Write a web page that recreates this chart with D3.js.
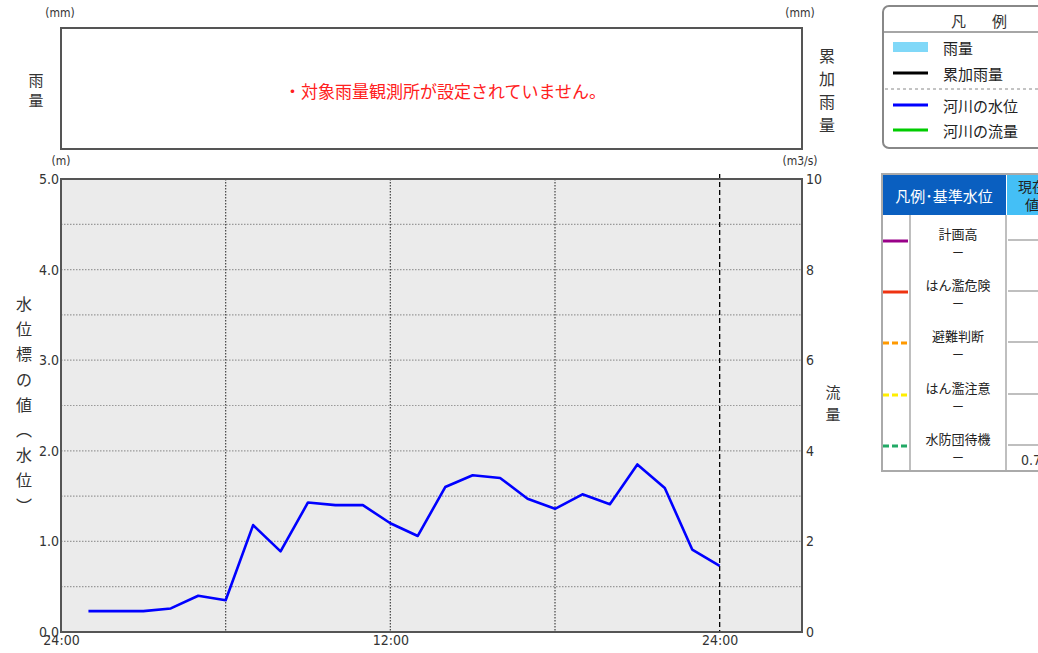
<!DOCTYPE html>
<html>
<head>
<meta charset="utf-8">
<script src="https://cdn.jsdelivr.net/npm/d3@7"></script>
<style>
  body { margin:0; background:#fff; }
  text { font-family: "Noto Sans CJK JP", "DejaVu Sans", sans-serif; }
  .num { font-family: "DejaVu Sans Condensed", "DejaVu Sans", sans-serif; }
</style>
</head>
<body>
<div class="canvas"></div>
<script>
//------------------------DATA
const hours = [1,2,3,4,5,6,7,8,9,10,11,12,13,14,15,16,17,18,19,20,21,22,23,24];
const waterLevel = [0.23,0.23,0.23,0.26,0.40,0.35,1.18,0.89,1.43,1.40,1.40,1.20,1.06,1.60,1.73,1.70,1.47,1.36,1.52,1.41,1.85,1.59,0.91,0.73];
const levelTicks = [0,1,2,3,4,5];
const flowTicks = [0,2,4,6,8,10];
const gridLevels = [0.5,1,1.5,2,2.5,3,3.5,4,4.5];
const timeTicks = [0,12,24];
const timeLabels = ['24:00','12:00','24:00'];
const dottedHours = [6,12,18];
const dayEnd = 24;
const legendNames = ['雨量','累加雨量','河川の水位','河川の流量'];
const legendColors = ['#80d8f8','#000000','#0000ff','#00cc00'];
const stdNames = ['計画高','はん濫危険','避難判断','はん濫注意','水防団待機'];
const stdColors = ['#990088','#ee3311','#ff9900','#ffee00','#22aa66'];
const stdDashed = [false,false,true,true,true];
const currentValue = '0.73';

//------------------------dimensions
const dims = { width:1038, height:653 };
const plot = { left:61, right:802, top:179, bottom:632 };
const rain = { top:28, bottom:149 };

const svg = d3.select('.canvas')
.append('svg')
.attr('width', dims.width)
.attr('height', dims.height);

//------------------------scales
const x = d3.scaleLinear().domain([0,27]).range([plot.left, plot.right]);
const y = d3.scaleLinear().domain([0,5]).range([plot.bottom, plot.top]);
const yFlow = d3.scaleLinear().domain([0,10]).range([plot.bottom, plot.top]);

//------------------------rain panel (empty)
svg.append('rect')
.attr('x', plot.left).attr('y', rain.top)
.attr('width', plot.right - plot.left).attr('height', rain.bottom - rain.top)
.attr('fill', '#fff').attr('stroke', '#555').attr('stroke-width', 2);

svg.append('text').attr('class','num').attr('x', 60).attr('y', 17)
.attr('text-anchor','middle').attr('font-size', 12).attr('fill','#333').text('(mm)');
svg.append('text').attr('class','num').attr('x', 800).attr('y', 17)
.attr('text-anchor','middle').attr('font-size', 12).attr('fill','#333').text('(mm)');

const vText = (chars, cx, y0, step, size) => {
    chars.split('').forEach((c, i) => {
        svg.append('text')
        .attr('x', cx).attr('y', y0 + i*step)
        .attr('text-anchor','middle').attr('dominant-baseline','central')
        .attr('font-size', size).attr('fill','#333')
        .text(c);
    });
};
vText('雨量', 36, 79, 20, 15);
vText('累加雨量', 827, 55, 23, 16);

svg.append('text')
.attr('x', 445).attr('y', 90)
.attr('text-anchor','middle').attr('dominant-baseline','central')
.attr('font-size', 17).attr('fill','#ff2020')
.text('・対象雨量観測所が設定されていません。');

//------------------------main plot background
svg.append('rect')
.attr('x', plot.left).attr('y', plot.top)
.attr('width', plot.right - plot.left).attr('height', plot.bottom - plot.top)
.attr('fill', '#ebebeb');

// horizontal grid
svg.append('g').selectAll('line')
.data(gridLevels).enter().append('line')
.attr('x1', plot.left).attr('x2', plot.right)
.attr('y1', d => y(d)).attr('y2', d => y(d))
.attr('stroke', '#999').attr('stroke-width', 1.2).attr('stroke-dasharray', '1.5,1.5');

// vertical grid
svg.append('g').selectAll('line')
.data(dottedHours).enter().append('line')
.attr('x1', d => x(d)).attr('x2', d => x(d))
.attr('y1', plot.top).attr('y2', plot.bottom)
.attr('stroke', '#444').attr('stroke-width', 1.2).attr('stroke-dasharray', '1.5,1.5');

svg.append('line')
.attr('x1', x(dayEnd)).attr('x2', x(dayEnd))
.attr('y1', plot.top - 5).attr('y2', plot.bottom)
.attr('stroke', '#000').attr('stroke-width', 1.3).attr('stroke-dasharray', '5,3');

// frame
svg.append('rect')
.attr('x', plot.left).attr('y', plot.top)
.attr('width', plot.right - plot.left).attr('height', plot.bottom - plot.top)
.attr('fill', 'none').attr('stroke', '#555').attr('stroke-width', 2);

//------------------------axes
const leftAxis = d3.axisLeft(y).tickValues(levelTicks).tickFormat(d3.format('.1f')).tickSize(0).tickPadding(2);
const rightAxis = d3.axisRight(yFlow).tickValues(flowTicks).tickFormat(d3.format('d')).tickSize(0).tickPadding(4);
const bottomAxis = d3.axisBottom(x).tickValues(timeTicks).tickFormat((d,i) => timeLabels[i]).tickSize(0).tickPadding(4);

const styleAxis = g => {
    g.select('.domain').remove();
    g.selectAll('text').attr('class','num').attr('font-size', 14).attr('fill', '#333')
    .style('font-family', '"DejaVu Sans Condensed", "DejaVu Sans", sans-serif');
};

svg.append('g').attr('transform', `translate(${plot.left},0)`).call(leftAxis).call(styleAxis);
svg.append('g').attr('transform', `translate(${plot.right},0)`).call(rightAxis).call(styleAxis);
svg.append('g').attr('transform', `translate(0,${plot.bottom - 1})`).call(bottomAxis).call(styleAxis);

svg.append('text').attr('class','num').attr('x', 61).attr('y', 165)
.attr('text-anchor','middle').attr('font-size', 12).attr('fill','#333').text('(m)');
svg.append('text').attr('class','num').attr('x', 800).attr('y', 165)
.attr('text-anchor','middle').attr('font-size', 12).attr('fill','#333').text('(m3/s)');

vText('水位標の値︵水位︶', 24, 303, 25.2, 16);
vText('流量', 833, 391, 22, 15);

//------------------------water level line
const line = d3.line()
.x((d,i) => x(hours[i]))
.y(d => y(d));

svg.append('path')
.datum(waterLevel)
.attr('d', line)
.attr('fill', 'none')
.attr('stroke', '#0000ff')
.attr('stroke-width', 2.6)
.attr('stroke-linejoin', 'round');

//------------------------legend box 1
const lg = svg.append('g');
lg.append('rect')
.attr('x', 883).attr('y', 6).attr('width', 200).attr('height', 142).attr('rx', 6)
.attr('fill', '#fff').attr('stroke', '#888').attr('stroke-width', 2);
lg.append('line').attr('x1', 883).attr('x2', 1038).attr('y1', 32).attr('y2', 32)
.attr('stroke', '#888').attr('stroke-width', 1.5);
lg.append('text').attr('x', 951).attr('y', 20).attr('dominant-baseline','central')
.attr('font-size', 15).attr('fill', '#333').text('凡');
lg.append('text').attr('x', 992).attr('y', 20).attr('dominant-baseline','central')
.attr('font-size', 15).attr('fill', '#333').text('例');
lg.append('line').attr('x1', 885).attr('x2', 1038).attr('y1', 89).attr('y2', 89)
.attr('stroke', '#888').attr('stroke-dasharray', '3,3');

const legendY = [47, 73, 105, 130];
legendNames.forEach((n, i) => {
    if (i === 0) {
        lg.append('rect').attr('x', 893).attr('y', legendY[i] - 5).attr('width', 35).attr('height', 10)
        .attr('fill', legendColors[i]);
    } else {
        lg.append('line').attr('x1', 893).attr('x2', 928).attr('y1', legendY[i]).attr('y2', legendY[i])
        .attr('stroke', legendColors[i]).attr('stroke-width', 3);
    }
    lg.append('text').attr('x', 943).attr('y', legendY[i]).attr('dominant-baseline','central')
    .attr('font-size', 15).attr('fill', '#222').text(n);
});

//------------------------legend table (standard water levels)
const tb = svg.append('g');
tb.append('rect').attr('x', 882).attr('y', 174).attr('width', 200).attr('height', 297)
.attr('fill', '#fff').attr('stroke', '#aaa').attr('stroke-width', 2);
tb.append('rect').attr('x', 883).attr('y', 175).attr('width', 123).attr('height', 40).attr('fill', '#0a5fc0');
tb.append('rect').attr('x', 1007).attr('y', 175).attr('width', 60).attr('height', 40).attr('fill', '#44bff6');
tb.append('text').attr('x', 944).attr('y', 195).attr('text-anchor','middle').attr('dominant-baseline','central')
.attr('font-size', 15).attr('fill', '#fff').text('凡例･基準水位');
tb.append('text').attr('x', 1032).attr('y', 186).attr('text-anchor','middle').attr('dominant-baseline','central')
.attr('font-size', 14).attr('fill', '#222').text('現在');
tb.append('text').attr('x', 1032).attr('y', 204).attr('text-anchor','middle').attr('dominant-baseline','central')
.attr('font-size', 14).attr('fill', '#222').text('値');

tb.append('line').attr('x1', 910).attr('x2', 910).attr('y1', 215).attr('y2', 471).attr('stroke', '#aaa').attr('stroke-width', 1.5);
tb.append('line').attr('x1', 1006).attr('x2', 1006).attr('y1', 215).attr('y2', 471).attr('stroke', '#aaa').attr('stroke-width', 1.5);

const rowY = [241, 292, 343, 395, 446];
stdNames.forEach((n, i) => {
    tb.append('line').attr('x1', 883).attr('x2', 908).attr('y1', rowY[i]).attr('y2', rowY[i])
    .attr('stroke', stdColors[i]).attr('stroke-width', 3)
    .attr('stroke-dasharray', stdDashed[i] ? '6,3' : null);
    tb.append('text').attr('x', 958).attr('y', rowY[i] - 8).attr('text-anchor','middle').attr('dominant-baseline','central')
    .attr('font-size', 13).attr('fill', '#222').text(n);
    tb.append('text').attr('x', 958).attr('y', rowY[i] + 10).attr('text-anchor','middle').attr('dominant-baseline','central')
    .attr('font-size', 13).attr('fill', '#222').text('－');
    tb.append('line').attr('x1', 1008).attr('x2', 1038).attr('y1', rowY[i] - 1).attr('y2', rowY[i] - 1)
    .attr('stroke', '#aaa').attr('stroke-width', 1.5);
});
tb.append('text').attr('class','num').attr('x', 1021).attr('y', 460).attr('dominant-baseline','central')
.attr('font-size', 14).attr('fill', '#333').text(currentValue);
</script>
</body>
</html>
